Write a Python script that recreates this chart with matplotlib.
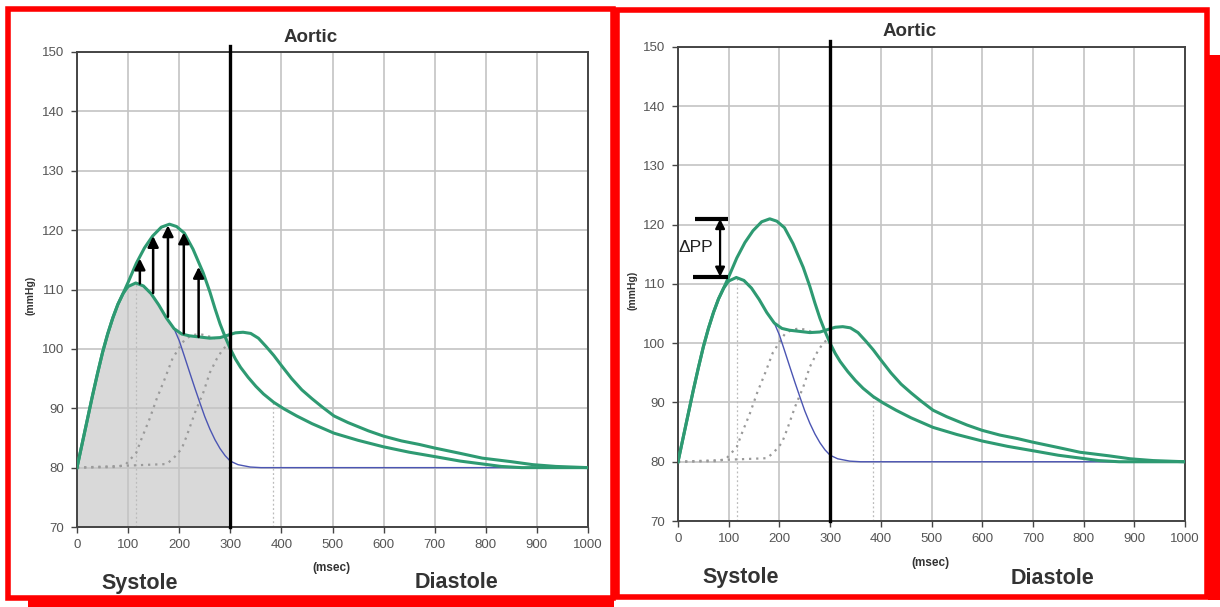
import numpy as np
import matplotlib
matplotlib.use('Agg')
import matplotlib.pyplot as plt
from matplotlib.patches import Rectangle

plt.rcParams['font.family'] = ['Liberation Sans', 'DejaVu Sans']

# shared upstroke (both curves)
t_rise = [0, 10, 20, 30, 40, 50, 60, 70, 80, 90]
p_rise = [80, 84, 88, 92, 95.8, 99.4, 102.5, 105.2, 107.5, 109.3]

# lower pressure curve (late reflection)
t_late = t_rise + [100, 115, 130, 145, 160, 175, 190, 205, 220, 240, 260, 280, 295, 310, 325,
                   340, 355, 370, 385, 400, 420, 440, 460, 480, 503, 530, 570, 600, 635, 670,
                   700, 750, 793, 850, 892, 937, 1000]
p_late = p_rise + [110.5, 111.1, 110.6, 109.3, 107.4, 105.2, 103.4, 102.5, 102.2, 102.0, 101.8,
                   101.9, 102.3, 102.7, 102.8, 102.6, 101.8, 100.4, 98.9, 97.2, 95.0, 93.1,
                   91.6, 90.2, 88.7, 87.6, 86.2, 85.3, 84.5, 83.9, 83.3, 82.4, 81.6, 81.0,
                   80.5, 80.2, 80.0]

# higher pressure curve (early reflection)
t_early = t_rise + [100, 116, 132, 148, 165, 181, 195, 210, 227, 247, 260, 270, 280, 290, 300,
                    310, 320, 335, 350, 365, 385, 405, 430, 460, 503, 550, 600, 650, 704, 750,
                    795, 830, 870, 1000]
p_early = p_rise + [111.2, 114.4, 117.0, 119.0, 120.5, 121.0, 120.6, 119.5, 116.8, 112.8, 109.6,
                    106.8, 104.2, 102.0, 100.0, 98.3, 96.9, 95.2, 93.7, 92.4, 91.0, 89.9,
                    88.7, 87.4, 85.8, 84.6, 83.5, 82.6, 81.8, 81.1, 80.6, 80.2, 80.0, 80.0]

# forward wave
t_fwd = t_rise + [100, 115, 130, 145, 160, 175, 190, 200, 210, 221, 231, 241, 250, 260, 270,
                  280, 290, 300, 315, 339, 360, 1000]
p_fwd = p_rise + [110.5, 111.1, 110.6, 109.3, 107.4, 105.2, 103.4, 101.4, 98.8, 95.9, 93.3,
                  90.8, 88.6, 86.5, 84.7, 83.2, 82.0, 81.1, 80.5, 80.1, 80.0, 80.0]

# reflected waves (dotted)
t_refl1 = [0, 80, 96, 116, 126, 142, 156, 172, 187, 201, 211, 225, 240, 255, 270]
p_refl1 = [80, 80.1, 80.6, 82.5, 84.8, 88.2, 91.6, 95, 98.4, 100.3, 101.6, 102.3, 102.5, 102.2, 101.7]
t_refl2 = [0, 175, 188, 205, 215, 231, 247, 260, 274, 286, 300]
p_refl2 = [80, 80.6, 81.5, 83.2, 85.4, 89.3, 92.6, 96, 98.4, 100, 101]

# vertical dotted markers
mark_t = [116, 384]
mark_p = [111, 91]

# augmentation arrows (left panel)
arrow_t = [123, 149, 178, 209, 238]
arrow_base = [111, 109.4, 105.4, 102.6, 102]
arrow_tip = [115.2, 119, 120.8, 119.6, 113.8]

# delta PP marker (right panel)
dpp_low, dpp_high = 111.2, 121
dpp_t = 83

GREEN = '#2e9a72'
BLUE = '#4b55b3'
GRAY = '#9a9a9a'

W, H = 1220, 607
fig = plt.figure(figsize=(W / 100, H / 100), dpi=100)

# red frames
bg = fig.add_axes([0, 0, 1, 1], zorder=-10)
bg.set_xlim(0, W)
bg.set_ylim(H, 0)
bg.axis('off')
bg.add_patch(Rectangle((7.5, 9), 605, 589, fill=False, ec='#ff0000', lw=4))
bg.add_patch(Rectangle((28, 598), 586, 9, fc='#ff0000', ec='none'))
bg.add_patch(Rectangle((616.5, 10), 590, 587, fill=False, ec='#ff0000', lw=4))
bg.add_patch(Rectangle((1208, 55), 12, 545, fc='#ff0000', ec='none'))


def px_axes(x0, x1, ytop, ybot):
    return fig.add_axes([x0 / W, 1 - ybot / H, (x1 - x0) / W, (ybot - ytop) / H])


def draw_panel(ax):
    ax.set_xlim(0, 1000)
    ax.set_ylim(70, 150)
    ax.set_xticks(np.arange(0, 1001, 100))
    ax.set_yticks(np.arange(70, 151, 10))
    ax.set_axisbelow(True)
    ax.grid(color='#c4c4c4', lw=1.2)
    for s in ax.spines.values():
        s.set_color('#444444')
        s.set_linewidth(1.4)
    ax.tick_params(labelsize=9.5, labelcolor='#555555', color='#444444', length=4, width=1, pad=5)
    for t, p in zip(mark_t, mark_p):
        ax.plot([t, t], [70, p], color='#bbbbbb', lw=0.9, ls=(0, (1.5, 2)), zorder=1.5)
    ax.plot(t_refl1, p_refl1, color=GRAY, lw=1.6, ls=(0, (1, 2.2)), zorder=2)
    ax.plot(t_refl2, p_refl2, color=GRAY, lw=1.6, ls=(0, (1, 2.2)), zorder=2)
    ax.plot(t_fwd, p_fwd, color=BLUE, lw=1.0, zorder=3)
    ax.plot(t_early, p_early, color=GREEN, lw=2.2, zorder=4)
    ax.plot(t_late, p_late, color=GREEN, lw=2.2, zorder=4)
    ax.plot([300, 300], [70, 151], color='black', lw=2.4, clip_on=False, zorder=5)


# left panel
axl = px_axes(77, 588, 52, 527)
tl = np.array(t_late)
pl = np.array(p_late)
sel = tl <= 300
axl.fill_between(tl[sel], 70, pl[sel], color='#d9d9d9', lw=0, zorder=0.2)
draw_panel(axl)
for t, b, tip in zip(arrow_t, arrow_base, arrow_tip):
    axl.annotate('', xy=(t, tip), xytext=(t, b),
                 arrowprops=dict(arrowstyle='-|>', color='black', lw=1.8,
                                 mutation_scale=16, shrinkA=0, shrinkB=0), zorder=6)

# right panel
axr = px_axes(678, 1185, 47, 521)
draw_panel(axr)
axr.plot([33, 99], [dpp_high, dpp_high], color='black', lw=3, solid_capstyle='butt', zorder=6)
axr.plot([30, 99], [dpp_low, dpp_low], color='black', lw=3, solid_capstyle='butt', zorder=6)
axr.annotate('', xy=(dpp_t, dpp_high), xytext=(dpp_t, dpp_low),
             arrowprops=dict(arrowstyle='<|-|>', color='black', lw=1.6,
                             mutation_scale=14, shrinkA=0, shrinkB=0), zorder=6)
axr.text(36, 116.2, '\u0394PP', fontsize=12.5, ha='center', va='center', color='#222222')


def ftext(x, y, s, **kw):
    fig.text(x / W, 1 - y / H, s, ha='center', va='center', color='#333333', **kw)


ftext(311, 37, 'Aortic', fontsize=13.5, fontweight='bold')
ftext(910, 31, 'Aortic', fontsize=13.5, fontweight='bold')
ftext(30, 295, '(mmHg)', fontsize=7.5, fontweight='bold', rotation=90)
ftext(632, 290, '(mmHg)', fontsize=7.5, fontweight='bold', rotation=90)
ftext(331, 568, '(msec)', fontsize=8.5, fontweight='bold')
ftext(930, 563, '(msec)', fontsize=8.5, fontweight='bold')
ftext(140, 583, 'Systole', fontsize=15.5, fontweight='bold')
ftext(456, 583, 'Diastole', fontsize=15.5, fontweight='bold')
ftext(741, 578, 'Systole', fontsize=15.5, fontweight='bold')
ftext(1053, 578, 'Diastole', fontsize=15.5, fontweight='bold')

fig.savefig('out.png', dpi=100)
